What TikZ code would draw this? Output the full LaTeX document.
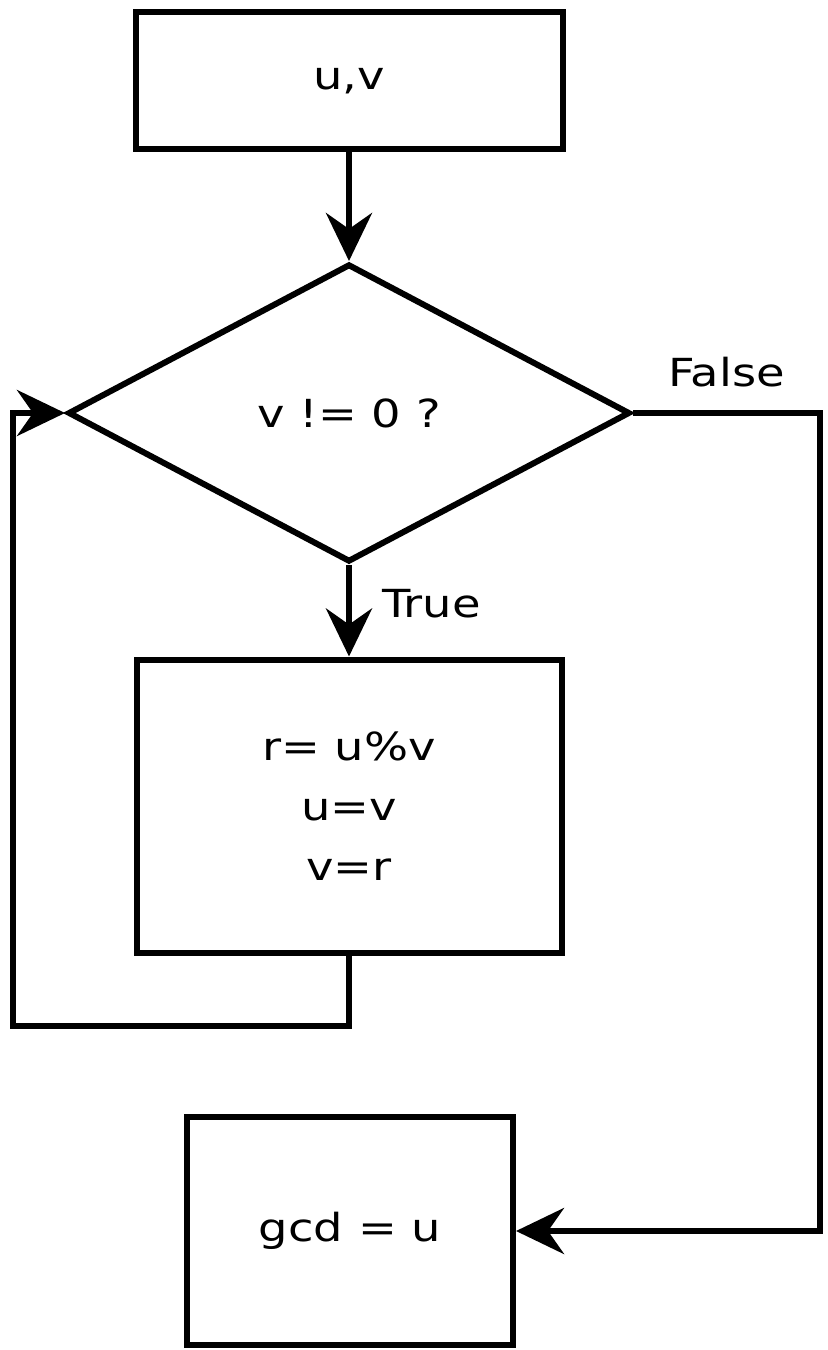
\documentclass[tikz,border=0pt]{standalone}
\usepackage{fontspec}
\setmainfont{DejaVu Sans}[FakeStretch=1.2]
\usetikzlibrary{shapes.geometric,arrows.meta,positioning}
\tikzset{
    flow/.style      = {-{Stealth[length=4.8mm, width=4.6mm, inset=1.6mm]}, line width=0.6mm, draw=black},
    box/.style       = {rectangle, draw=black, line width=0.6mm, align=center, inner sep=0pt,
                        font=\fontsize{11}{17}\selectfont},
    test/.style      = {diamond, draw=black, line width=0.6mm, inner sep=0pt,
                        font=\fontsize{11}{17}\selectfont},
    labeltext/.style = {inner sep=0pt, font=\fontsize{11}{13}\selectfont}
}

\begin{document}
\begin{tikzpicture}[x=0.1mm, y=-0.1mm]
    \useasboundingbox (0,0) rectangle (828,1350);
    \node[box, minimum width=4.27cm, minimum height=1.37cm] (input)  at (349,81)   {u,v};
    \node[test, minimum width=5.62cm, minimum height=2.98cm] (cond)  at (349,413)  {v != 0 ?};
    \node[box, minimum width=4.25cm, minimum height=2.93cm] (body)   at (349,806)  {r= u\%v\\u=v\\v=r};
    \node[box, minimum width=3.26cm, minimum height=2.28cm] (result) at (350,1231) {gcd = u};
    \coordinate (loopL)  at (13,1026);
    \coordinate (rightC) at (820,1231);
    \draw[flow] (input) -- (cond);
    \draw[flow] (cond) -- node[labeltext, anchor=west, pos=0.42, xshift=3mm] {True} (body);
    \draw[flow] (body.south) |- (loopL) |- (cond.west);
    \draw[flow] (cond.east) -| node[labeltext, above, pos=0.25, yshift=2.3mm] {False} (rightC) -- (result.east);
\end{tikzpicture}
\end{document}
